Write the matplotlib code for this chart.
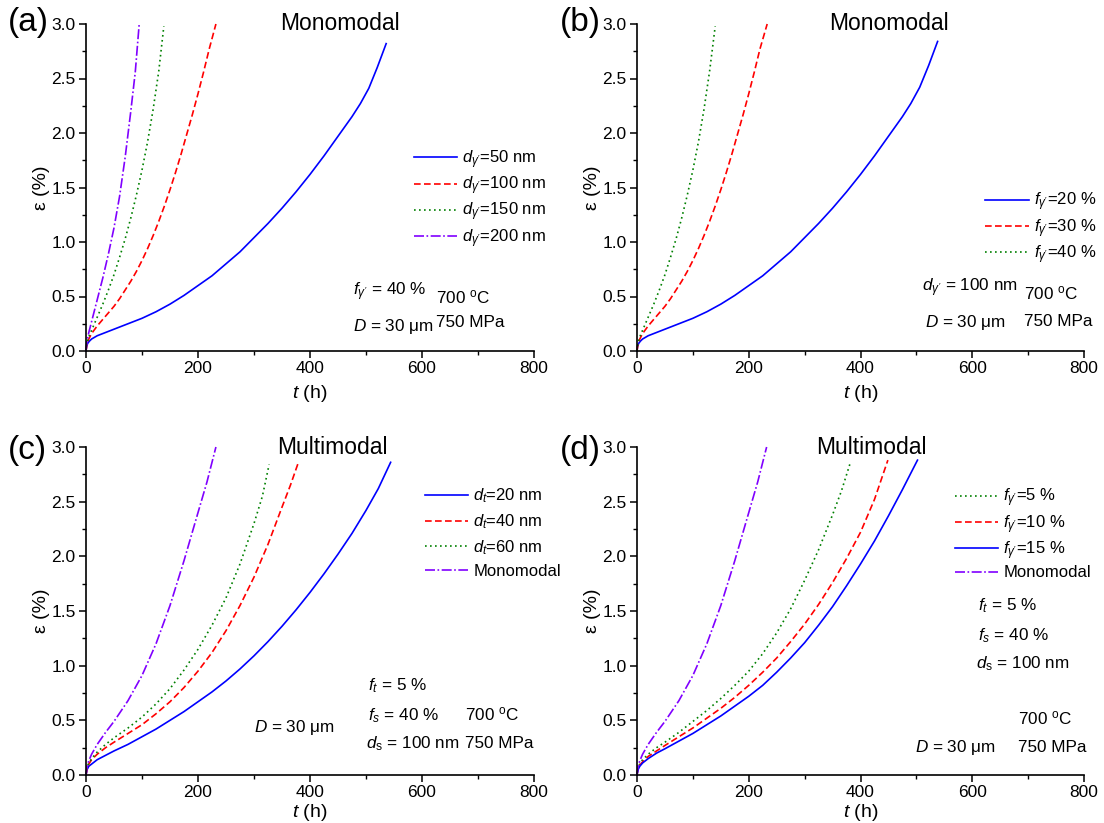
import matplotlib
matplotlib.use("Agg")
import matplotlib.pyplot as plt
from matplotlib.ticker import MultipleLocator, FormatStrFormatter

plt.rcParams['font.family'] = ['Liberation Sans', 'DejaVu Sans']
plt.rcParams['mathtext.fontset'] = 'custom'
plt.rcParams['mathtext.rm'] = 'Liberation Sans'
plt.rcParams['mathtext.it'] = 'Liberation Sans:italic'

# ---------------- data (t in h, strain in %) ----------------
# panel (a): Monomodal, varying d_gamma'
a_t_50 = [0, 1, 3, 6, 10, 20, 35, 50, 75, 100, 125, 150, 175, 200, 225, 250, 275, 300,
          325, 350, 375, 400, 425, 450, 475, 490, 505, 520, 536]
a_e_50 = [0.0, 0.04, 0.07, 0.09, 0.11, 0.14, 0.17, 0.20, 0.25, 0.30, 0.36, 0.43, 0.51, 0.60,
          0.69, 0.80, 0.91, 1.04, 1.17, 1.31, 1.46, 1.62, 1.79, 1.97, 2.15, 2.27, 2.41, 2.60, 2.82]
a_t_100 = [0, 2, 5, 10, 20, 30, 40, 50, 60, 70, 80, 90, 100, 110, 120, 130, 140, 150, 160,
           170, 180, 190, 200, 210, 220, 232]
a_e_100 = [0.0, 0.07, 0.11, 0.16, 0.23, 0.29, 0.35, 0.41, 0.48, 0.56, 0.64, 0.73, 0.83, 0.94,
           1.06, 1.19, 1.33, 1.48, 1.64, 1.81, 1.99, 2.17, 2.36, 2.56, 2.77, 3.0]
a_t_150 = [0, 2, 5, 10, 20, 30, 40, 50, 60, 70, 80, 90, 100, 110, 120, 130, 139]
a_e_150 = [0.0, 0.08, 0.13, 0.19, 0.31, 0.43, 0.56, 0.70, 0.86, 1.03, 1.22, 1.43, 1.66, 1.92,
           2.22, 2.57, 2.98]
a_t_200 = [0, 2, 5, 10, 15, 20, 30, 40, 50, 60, 70, 80, 88, 95]
a_e_200 = [0.0, 0.10, 0.17, 0.27, 0.37, 0.47, 0.67, 0.89, 1.13, 1.42, 1.78, 2.20, 2.56, 3.0]

# panel (b): Monomodal, varying f_gamma'
b_t_20 = [0, 1, 3, 6, 10, 20, 35, 50, 75, 100, 125, 150, 175, 200, 225, 250, 275, 300,
          325, 350, 375, 400, 425, 450, 475, 490, 506, 522, 538]
b_e_20 = [0.0, 0.04, 0.07, 0.09, 0.11, 0.14, 0.17, 0.20, 0.25, 0.30, 0.36, 0.43, 0.51, 0.60,
          0.69, 0.80, 0.91, 1.04, 1.17, 1.31, 1.46, 1.62, 1.79, 1.97, 2.15, 2.27, 2.42, 2.62, 2.84]
b_t_30 = [0, 2, 5, 10, 20, 30, 40, 50, 60, 70, 80, 90, 100, 110, 120, 130, 140, 150, 160,
          170, 180, 190, 200, 210, 220, 233]
b_e_30 = [0.0, 0.07, 0.11, 0.16, 0.23, 0.29, 0.35, 0.41, 0.48, 0.56, 0.64, 0.73, 0.83, 0.94,
          1.06, 1.19, 1.33, 1.48, 1.64, 1.81, 1.99, 2.17, 2.36, 2.56, 2.77, 3.0]
b_t_40 = [0, 2, 5, 10, 20, 30, 40, 50, 60, 70, 80, 90, 100, 110, 120, 130, 140]
b_e_40 = [0.0, 0.08, 0.13, 0.19, 0.31, 0.43, 0.56, 0.70, 0.86, 1.03, 1.22, 1.43, 1.66, 1.92,
          2.22, 2.57, 2.98]

# panel (c): Multimodal, varying d_t
c_t_20 = [0, 2, 5, 10, 20, 35, 50, 75, 100, 125, 150, 175, 200, 225, 250, 275, 300, 325,
          350, 375, 400, 425, 450, 475, 500, 522, 544]
c_e_20 = [0.0, 0.05, 0.08, 0.10, 0.14, 0.18, 0.22, 0.28, 0.35, 0.42, 0.50, 0.58, 0.67, 0.76,
          0.86, 0.97, 1.09, 1.22, 1.36, 1.51, 1.67, 1.84, 2.02, 2.21, 2.42, 2.62, 2.86]
c_t_40 = [0, 2, 5, 10, 20, 35, 50, 75, 100, 125, 150, 175, 200, 225, 250, 275, 300, 325,
          350, 365, 380]
c_e_40 = [0.0, 0.06, 0.10, 0.14, 0.19, 0.25, 0.30, 0.38, 0.46, 0.56, 0.67, 0.80, 0.95, 1.12,
          1.32, 1.55, 1.81, 2.11, 2.45, 2.65, 2.87]
c_t_60 = [0, 2, 5, 10, 20, 35, 50, 75, 100, 125, 150, 175, 200, 225, 250, 275, 300, 315, 327]
c_e_60 = [0.0, 0.07, 0.11, 0.15, 0.21, 0.28, 0.34, 0.43, 0.53, 0.65, 0.79, 0.96, 1.15, 1.37,
          1.62, 1.93, 2.30, 2.55, 2.84]
c_t_mono = [0, 2, 5, 10, 20, 35, 50, 75, 100, 125, 150, 175, 200, 216, 232]
c_e_mono = [0.0, 0.08, 0.13, 0.19, 0.28, 0.39, 0.49, 0.68, 0.91, 1.20, 1.55, 1.96, 2.40,
            2.68, 3.0]

# panel (d): Multimodal, varying f_gamma'
d_t_5 = [0, 2, 5, 10, 20, 35, 50, 75, 100, 125, 150, 175, 200, 225, 250, 275, 300, 325,
         350, 366, 382]
d_e_5 = [0.0, 0.07, 0.10, 0.14, 0.19, 0.25, 0.30, 0.39, 0.49, 0.59, 0.70, 0.82, 0.95, 1.11,
         1.30, 1.52, 1.78, 2.06, 2.38, 2.60, 2.86]
d_t_10 = [0, 2, 5, 10, 20, 35, 50, 75, 100, 125, 150, 175, 200, 225, 250, 275, 300, 325,
          350, 375, 400, 425, 449]
d_e_10 = [0.0, 0.06, 0.09, 0.12, 0.17, 0.22, 0.27, 0.35, 0.43, 0.52, 0.61, 0.71, 0.82, 0.94,
          1.07, 1.22, 1.38, 1.56, 1.76, 1.98, 2.22, 2.52, 2.88]
d_t_15 = [0, 2, 5, 10, 20, 35, 50, 75, 100, 125, 150, 175, 200, 225, 250, 275, 300, 325,
          350, 375, 400, 425, 450, 475, 502]
d_e_15 = [0.0, 0.05, 0.08, 0.11, 0.15, 0.20, 0.24, 0.31, 0.38, 0.46, 0.54, 0.63, 0.72, 0.82,
          0.94, 1.07, 1.21, 1.37, 1.54, 1.73, 1.93, 2.14, 2.37, 2.61, 2.88]
d_t_mono = c_t_mono
d_e_mono = c_e_mono

BLUE = '#0000ff'
RED = '#ff0000'
GREEN = '#008000'
PURPLE = '#8000ff'
LS_SOLID = '-'
LS_DASH = (0, (4, 2))
LS_DOT = (0, (1, 2))
LS_DASHDOT = (0, (6, 1.5, 1, 1.5))

fig = plt.figure(figsize=(11.04, 8.23), dpi=100)

W, H = 1104, 823
def make_ax(l, r, t, b):
    return fig.add_axes([l / W, 1 - b / H, (r - l) / W, (b - t) / H])

axA = make_ax(86, 534, 24, 351)
axB = make_ax(637, 1084, 24, 351)
axC = make_ax(86, 534, 447, 775)
axD = make_ax(637, 1084, 447, 775)

for ax, xpad in ((axA, 5), (axB, 5), (axC, 1), (axD, 1)):
    ax.set_xlim(0, 800)
    ax.set_ylim(0, 3.0)
    ax.xaxis.set_major_locator(MultipleLocator(200))
    ax.xaxis.set_minor_locator(MultipleLocator(100))
    ax.yaxis.set_major_locator(MultipleLocator(0.5))
    ax.yaxis.set_minor_locator(MultipleLocator(0.25))
    ax.yaxis.set_major_formatter(FormatStrFormatter('%.1f'))
    ax.spines['top'].set_visible(False)
    ax.spines['right'].set_visible(False)
    ax.spines['left'].set_linewidth(1.2)
    ax.spines['bottom'].set_linewidth(1.2)
    ax.tick_params(which='major', direction='out', length=5, width=1.1, labelsize=12.5, pad=2.5)
    ax.tick_params(which='minor', direction='out', length=3, width=1.0)
    ax.set_xlabel(r'$t$ (h)', fontsize=14, labelpad=xpad)
    ax.set_ylabel('ε (%)', fontsize=14, labelpad=1)

lw = 1.2
def plot(ax, t, e, c, ls, label):
    ax.plot(t, e, color=c, linestyle=ls, lw=lw, label=label, clip_on=False)

G = r"\gamma'"
plot(axA, a_t_50, a_e_50, BLUE, LS_SOLID, r'$d_{%s}$=50 nm' % G)
plot(axA, a_t_100, a_e_100, RED, LS_DASH, r'$d_{%s}$=100 nm' % G)
plot(axA, a_t_150, a_e_150, GREEN, LS_DOT, r'$d_{%s}$=150 nm' % G)
plot(axA, a_t_200, a_e_200, PURPLE, LS_DASHDOT, r'$d_{%s}$=200 nm' % G)

plot(axB, b_t_20, b_e_20, BLUE, LS_SOLID, r'$f_{%s}$=20 %%' % G)
plot(axB, b_t_30, b_e_30, RED, LS_DASH, r'$f_{%s}$=30 %%' % G)
plot(axB, b_t_40, b_e_40, GREEN, LS_DOT, r'$f_{%s}$=40 %%' % G)

plot(axC, c_t_20, c_e_20, BLUE, LS_SOLID, r'$d_t$=20 nm')
plot(axC, c_t_40, c_e_40, RED, LS_DASH, r'$d_t$=40 nm')
plot(axC, c_t_60, c_e_60, GREEN, LS_DOT, r'$d_t$=60 nm')
plot(axC, c_t_mono, c_e_mono, PURPLE, LS_DASHDOT, 'Monomodal')

plot(axD, d_t_5, d_e_5, GREEN, LS_DOT, r'$f_{%s}$=5 %%' % G)
plot(axD, d_t_10, d_e_10, RED, LS_DASH, r'$f_{%s}$=10 %%' % G)
plot(axD, d_t_15, d_e_15, BLUE, LS_SOLID, r'$f_{%s}$=15 %%' % G)
plot(axD, d_t_mono, d_e_mono, PURPLE, LS_DASHDOT, 'Monomodal')

def leg(ax, x, y, spacing):
    ax.legend(loc='upper left', bbox_to_anchor=(x, y), frameon=False, fontsize=12,
              handlelength=2.6, handletextpad=0.3, labelspacing=spacing,
              borderpad=0, borderaxespad=0)

leg(axA, 0.732, 0.62, 0.22)
leg(axB, 0.779, 0.49, 0.22)
leg(axC, 0.757, 0.879, 0.42)
leg(axD, 0.711, 0.879, 0.22)

TITLE_FS = 16.5
axA.text(0.566, 1.0, 'Monomodal', transform=axA.transAxes, ha='center', va='center', fontsize=TITLE_FS)
axB.text(0.564, 1.0, 'Monomodal', transform=axB.transAxes, ha='center', va='center', fontsize=TITLE_FS)
axC.text(0.551, 1.0, 'Multimodal', transform=axC.transAxes, ha='center', va='center', fontsize=TITLE_FS)
axD.text(0.524, 1.0, 'Multimodal', transform=axD.transAxes, ha='center', va='center', fontsize=TITLE_FS)

AFS = 12.3
def ann(ax, x, y, s):
    ax.text(x, y, s, transform=ax.transAxes, ha='left', va='center', fontsize=AFS)

OC = r'700 $^{\rm o}$C'
MU = r'$D$ = 30 μm'
ann(axA, 0.597, 0.18, r'$f_{%s}$ = 40 %%' % G)
ann(axA, 0.782, 0.165, OC)
ann(axA, 0.597, 0.076, MU)
ann(axA, 0.782, 0.086, '750 MPa')

ann(axB, 0.638, 0.193, r'$d_{%s}$ = 100 nm' % G)
ann(axB, 0.866, 0.177, OC)
ann(axB, 0.645, 0.086, MU)
ann(axB, 0.866, 0.089, '750 MPa')

ann(axC, 0.629, 0.271, r'$f_t$ = 5 %')
ann(axC, 0.629, 0.18, r'$f_s$ = 40 %')
ann(axC, 0.846, 0.186, OC)
ann(axC, 0.625, 0.095, r'$d_{\rm s}$ = 100 nm')
ann(axC, 0.846, 0.095, '750 MPa')
ann(axC, 0.375, 0.146, MU)

ann(axD, 0.763, 0.515, r'$f_t$ = 5 %')
ann(axD, 0.763, 0.424, r'$f_s$ = 40 %')
ann(axD, 0.758, 0.338, r'$d_{\rm s}$ = 100 nm')
ann(axD, 0.852, 0.174, OC)
ann(axD, 0.622, 0.085, MU)
ann(axD, 0.852, 0.085, '750 MPa')

PFS = 24
fig.text(8 / W, 1 - 22 / H, '(a)', fontsize=PFS, va='center', ha='left')
fig.text(560 / W, 1 - 22 / H, '(b)', fontsize=PFS, va='center', ha='left')
fig.text(8 / W, 1 - 450 / H, '(c)', fontsize=PFS, va='center', ha='left')
fig.text(560 / W, 1 - 450 / H, '(d)', fontsize=PFS, va='center', ha='left')

fig.savefig('out.png', dpi=100)
